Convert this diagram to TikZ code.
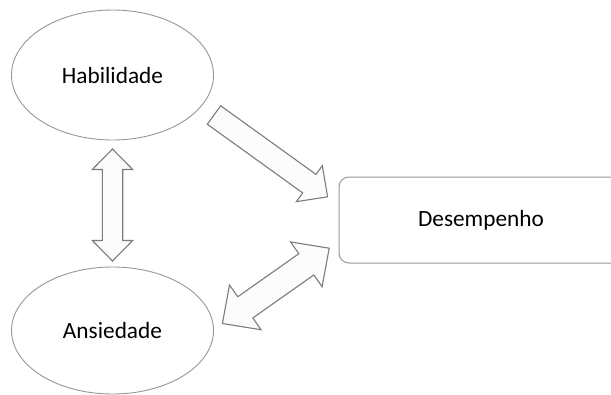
\documentclass[tikz,border=0pt]{standalone}
\usepackage{fontspec}
\setmainfont{Carlito}
\usetikzlibrary{calc,shapes.geometric}
\definecolor{edgegray}{HTML}{7C7C7C}
\definecolor{rimgray}{HTML}{979797}
\definecolor{shapefill}{HTML}{FCFCFC}
\tikzset{
  shaft half/.store in=\ShaftHalf,
  head half/.store in=\HeadHalf,
  head length/.store in=\HeadLen,
  shaft half=11,
  head half=22,
  head length=22,
  blob/.style={ellipse, draw=rimgray, fill=white, line width=0.9pt,
    minimum width=202pt, minimum height=130pt, inner sep=0pt},
  panel/.style={rectangle, rounded corners=10pt, draw=rimgray, fill=white,
    line width=1pt, minimum width=284pt, minimum height=86pt, inner sep=0pt},
  block arrow/.style={draw=edgegray, fill=shapefill, line width=1.1pt, line join=miter}
}

% one-headed block arrow from #1 (tail) to #2 (tip)
\newcommand{\SingleBlock}[2]{%
  \coordinate (hb) at ($(#2)!\HeadLen pt!(#1)$);
  \filldraw[block arrow]
    ($(#1)!\ShaftHalf pt!90:(#2)$) -- ($(hb)!\ShaftHalf pt!90:(#2)$)
    -- ($(hb)!\HeadHalf pt!90:(#2)$) -- (#2)
    -- ($(hb)!\HeadHalf pt!-90:(#2)$) -- ($(hb)!\ShaftHalf pt!-90:(#2)$)
    -- ($(#1)!\ShaftHalf pt!-90:(#2)$) -- cycle;
}

% two-headed block arrow between #1 and #2
\newcommand{\DoubleBlock}[2]{%
  \coordinate (ha) at ($(#1)!\HeadLen pt!(#2)$);
  \coordinate (hb) at ($(#2)!\HeadLen pt!(#1)$);
  \filldraw[block arrow]
    (#1) -- ($(ha)!\HeadHalf pt!90:(#2)$) -- ($(ha)!\ShaftHalf pt!90:(#2)$)
    -- ($(hb)!\ShaftHalf pt!90:(#2)$) -- ($(hb)!\HeadHalf pt!90:(#2)$)
    -- (#2)
    -- ($(hb)!\HeadHalf pt!-90:(#2)$) -- ($(hb)!\ShaftHalf pt!-90:(#2)$)
    -- ($(ha)!\ShaftHalf pt!-90:(#2)$) -- ($(ha)!\HeadHalf pt!-90:(#2)$)
    -- cycle;
}

\begin{document}
\begin{tikzpicture}[x=1pt, y=-1pt, line cap=round,
  font=\fontsize{23.3}{28}\selectfont]

  % Frame
  \clip (0,0) rectangle (611,394);
  \fill[white] (0,0) rectangle (611,394);

  % Nodes
  \node[blob]  (hab) at (112.5,75)  {Habilidade};
  \node[blob, minimum height=127pt] (ans) at (112.5,330.5) {Ansiedade};
  \node[panel] (des) at (481,220)   {Desempenho};

  % Arrow ends
  \coordinate (hab-down) at (112.5,149);   % below Habilidade
  \coordinate (ans-up)   at (112.5,261);   % above Ansiedade
  \coordinate (hab-out)  at (214,115);     % tail near Habilidade
  \coordinate (des-top)  at (327.6,196.8); % tip at Desempenho
  \coordinate (ans-out)  at (222.4,323.5); % tip at Ansiedade
  \coordinate (des-low)  at (329.2,248.2); % tip at Desempenho

  % Habilidade <-> Ansiedade
  \tikzset{shaft half=10.2, head half=20.2, head length=20.5}
  \DoubleBlock{hab-down}{ans-up}

  % Habilidade -> Desempenho
  \tikzset{shaft half=11.4, head half=22.2, head length=22.5}
  \SingleBlock{hab-out}{des-top}

  % Ansiedade <-> Desempenho
  \tikzset{shaft half=13, head half=27.4, head length=28}
  \DoubleBlock{ans-out}{des-low}

\end{tikzpicture}
\end{document}
